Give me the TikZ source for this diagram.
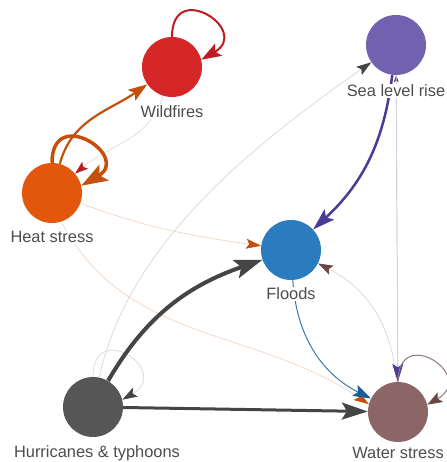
\documentclass[tikz,border=0pt]{standalone}
\usepackage{fontspec}
\setmainfont{Liberation Sans}
\usetikzlibrary{arrows.meta}
\pgfdeclarelayer{bg}
\pgfsetlayers{bg,main}

\definecolor{labelgray}{HTML}{4D4D4D}
\definecolor{wfred}{HTML}{D62728}
\definecolor{wfdark}{HTML}{BE1A20}
\definecolor{wfpale}{HTML}{E8D8D8}
\definecolor{heatorange}{HTML}{E3570C}
\definecolor{heatdark}{HTML}{C4500B}
\definecolor{heatpale}{HTML}{F0D5C5}
\definecolor{seapurple}{HTML}{7161AF}
\definecolor{seadark}{HTML}{4B3B98}
\definecolor{seapale}{HTML}{CFCBDB}
\definecolor{floodblue}{HTML}{2B7BBF}
\definecolor{floodline}{HTML}{3A78B0}
\definecolor{flooddark}{HTML}{165E9E}
\definecolor{hurrgray}{HTML}{565656}
\definecolor{hurrdark}{HTML}{454545}
\definecolor{grayline}{HTML}{D8D6D6}
\definecolor{waterbrown}{HTML}{8C6666}
\definecolor{waterloop}{HTML}{8E7A7A}
\definecolor{waterdark}{HTML}{6A4747}

\begin{document}
\begin{tikzpicture}[x=1pt, y=1pt,
	hazard/.style={circle, minimum size=60pt, inner sep=0pt},
	lbl/.style={anchor=base, fill=white, inner sep=1pt, text=labelgray, font=\fontsize{16.4}{19.7}\selectfont},
	faint/.style={line width=0.7pt},
	selfloop/.style={out=90, in=30, looseness=4},
	hd/.style args={#1/#2/#3}{-{Stealth[length=#1pt, width=#2pt, inset=0.2*#1pt, color=#3]}}]
	\useasboundingbox (0, 0) rectangle (446, 462);

	% Nodes and labels:
	\node[hazard, fill=wfred] (wildfires) at (172, 395){};
	\node[hazard, fill=heatorange] (heat) at (52, 269){};
	\node[hazard, fill=seapurple] (sealevel) at (396, 417){};
	\node[hazard, fill=floodblue] (floods) at (291, 212){};
	\node[hazard, fill=hurrgray] (hurricanes) at (93, 55){};
	\node[hazard, fill=waterbrown] (water) at (398, 50){};
	\node[lbl] (wildfires-t) at ([yshift=-51pt]wildfires.center){Wildfires};
	\node[lbl] (heat-t) at ([yshift=-50pt]heat.center){Heat stress};
	\node[lbl] (sealevel-t) at ([yshift=-52pt]sealevel.center){Sea level rise};
	\node[lbl] (floods-t) at ([yshift=-50pt]floods.center){Floods};
	\node[lbl] (hurricanes-t) at ([xshift=4pt, yshift=-50pt]hurricanes.center){Hurricanes \& typhoons};
	\node[lbl] (water-t) at ([yshift=-47pt]water.center){Water stress};

	% Links:
	\begin{pgfonlayer}{bg}
	\draw[faint, draw=wfpale, hd=13/9/wfdark] (wildfires) to[out=253, in=40] (heat);
	\draw[faint, draw=heatpale, hd=15/10/heatdark] (heat) to[out=-20, in=172] (floods);
	\draw[faint, draw=heatpale, hd=15/10/heatdark] (heat.-72) to[out=-62, in=146] (water.165);
	\draw[faint, draw=grayline, hd=15/10/hurrdark] (hurricanes) to[out=78, in=215, looseness=0.85] (sealevel);
	\draw[faint, draw=grayline, hd=15/10/hurrdark] (hurricanes.90) to[selfloop] (hurricanes.14);
	\draw[faint, draw=grayline, hd=15/10/waterdark] (water) to[bend right=30] (floods);
	\draw[faint, draw=grayline, hd=7/5/waterdark] (water) -- (sealevel);
	\draw[faint, draw=seapale, hd=18/11/seadark] (sealevel) -- (water);
	\draw[line width=1pt, draw=waterloop, hd=15/11/waterdark] (water.90) to[selfloop] (water.14);
	\draw[line width=1pt, draw=floodline, hd=18/12/flooddark] (floods) to[bend right=30] (water);
	\draw[line width=2.5pt, draw=seadark, hd=22/14/seadark] (sealevel) to[bend left=20] (floods);
	\draw[line width=3pt, draw=hurrdark, hd=26/17/hurrdark] (hurricanes) -- (water);
	\draw[line width=4pt, draw=hurrdark, hd=28/19/hurrdark] (hurricanes) to[out=60, in=199] (floods);
	\draw[line width=2pt, draw=wfdark, hd=20/14/wfdark] (wildfires.90) to[selfloop] (wildfires.14);
	\draw[line width=2.2pt, draw=heatdark, hd=19/13/heatdark] (heat) to[out=75, in=215] (wildfires);
	\draw[line width=3.5pt, draw=heatdark, hd=26/18/heatdark] (heat.90) to[selfloop] (heat.14);
	\end{pgfonlayer}
\end{tikzpicture}
\end{document}
